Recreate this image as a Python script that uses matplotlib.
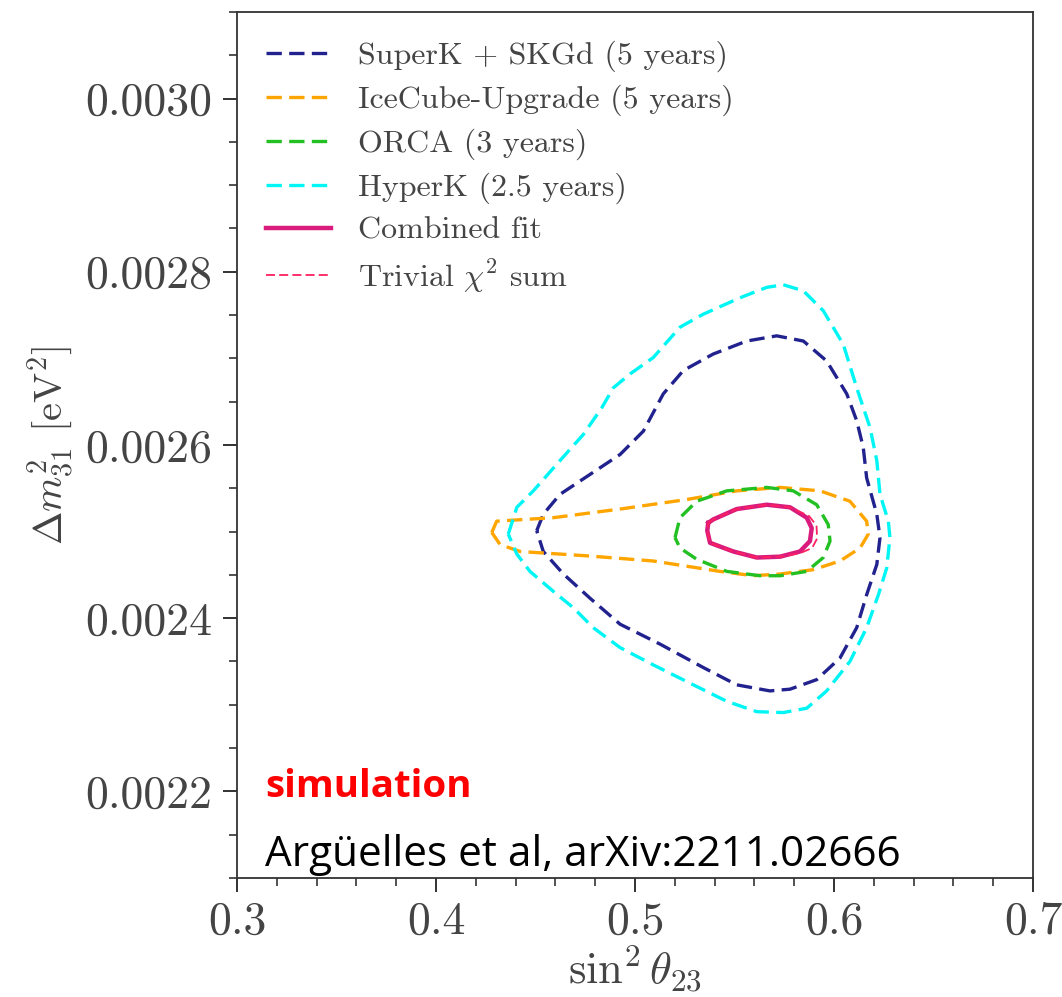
import numpy as np
import matplotlib
matplotlib.use("Agg")
import matplotlib.pyplot as plt
from matplotlib.ticker import MultipleLocator, FormatStrFormatter

plt.rcParams["font.family"] = "serif"
plt.rcParams["font.serif"] = ["cmr10"]
plt.rcParams["mathtext.fontset"] = "cm"
plt.rcParams["axes.unicode_minus"] = False

# 90% CL contours, sin^2(theta_23) vs dm^2_31 [eV^2]
superk_s2 = [0.4506, 0.4539, 0.4623, 0.4774, 0.4925, 0.5042, 0.5142, 0.5243, 0.5393, 0.5561,
             0.5712, 0.5846, 0.5963, 0.6064, 0.6114, 0.6147, 0.6164, 0.6215, 0.6231, 0.6215,
             0.6164, 0.6114, 0.6030, 0.5913, 0.5779, 0.5678, 0.5511, 0.5343, 0.5126, 0.4925,
             0.4774, 0.4640, 0.4539]
superk_dm = [0.002501, 0.002520, 0.002543, 0.002566, 0.002589, 0.002616, 0.002659, 0.002686,
             0.002705, 0.002720, 0.002726, 0.002720, 0.002697, 0.002659, 0.002628, 0.002597,
             0.002562, 0.002520, 0.002493, 0.002462, 0.002427, 0.002389, 0.002354, 0.002329,
             0.002318, 0.002316, 0.002323, 0.002343, 0.002370, 0.002393, 0.002423, 0.002451,
             0.002477]

icecube_s2 = [0.4280, 0.4305, 0.4589, 0.4925, 0.5260, 0.5511, 0.5729, 0.5930, 0.6080, 0.6164,
              0.6172, 0.6131, 0.6030, 0.5896, 0.5729, 0.5594, 0.5427, 0.5092, 0.4757, 0.4422,
              0.4322]
icecube_dm = [0.002499, 0.002512, 0.002516, 0.002526, 0.002537, 0.002547, 0.002551, 0.002547,
              0.002535, 0.002512, 0.002497, 0.002481, 0.002466, 0.002456, 0.002451, 0.002449,
              0.002454, 0.002466, 0.002472, 0.002477, 0.002485]

orca_s2 = [0.5201, 0.5226, 0.5310, 0.5461, 0.5662, 0.5795, 0.5913, 0.5971, 0.5980, 0.5946,
           0.5863, 0.5729, 0.5628, 0.5461, 0.5310, 0.5226]
orca_dm = [0.002493, 0.002516, 0.002535, 0.002547, 0.002551, 0.002547, 0.002531, 0.002508,
           0.002489, 0.002470, 0.002454, 0.002449, 0.002449, 0.002454, 0.002468, 0.002481]

hyperk_s2 = [0.4363, 0.4406, 0.4489, 0.4623, 0.4740, 0.4833, 0.4891, 0.4975, 0.5092, 0.5226,
             0.5343, 0.5528, 0.5662, 0.5745, 0.5846, 0.5946, 0.6047, 0.6114, 0.6181, 0.6215,
             0.6231, 0.6273, 0.6281, 0.6265, 0.6223, 0.6164, 0.6080, 0.5963, 0.5863, 0.5745,
             0.5612, 0.5461, 0.5293, 0.5092, 0.4925, 0.4790, 0.4690, 0.4589, 0.4472, 0.4406]
hyperk_dm = [0.002497, 0.002528, 0.002547, 0.002582, 0.002612, 0.002643, 0.002666, 0.002682,
             0.002701, 0.002736, 0.002751, 0.002770, 0.002782, 0.002785, 0.002778, 0.002755,
             0.002716, 0.002666, 0.002620, 0.002582, 0.002543, 0.002512, 0.002493, 0.002458,
             0.002427, 0.002389, 0.002350, 0.002316, 0.002296, 0.002291, 0.002292, 0.002304,
             0.002323, 0.002346, 0.002366, 0.002389, 0.002412, 0.002431, 0.002454, 0.002474]

combined_s2 = [0.5368, 0.5393, 0.5511, 0.5662, 0.5779, 0.5863, 0.5888, 0.5879, 0.5829, 0.5729,
               0.5612, 0.5494, 0.5377, 0.5363]
combined_dm = [0.002510, 0.002514, 0.002526, 0.002531, 0.002528, 0.002516, 0.002504, 0.002489,
               0.002477, 0.002471, 0.002470, 0.002477, 0.002487, 0.002501]

trivial_s2 = [0.5368, 0.5393, 0.5511, 0.5662, 0.5779, 0.5874, 0.5912, 0.5915, 0.5890, 0.5829,
              0.5729, 0.5612, 0.5494, 0.5377, 0.5363]
trivial_dm = [0.002510, 0.002514, 0.002526, 0.002531, 0.002528, 0.002518, 0.002507, 0.002492,
              0.002481, 0.002475, 0.002471, 0.002470, 0.002477, 0.002487, 0.002501]


def closed(a):
    return np.append(a, a[0])


fig = plt.figure(figsize=(10.62, 9.97), dpi=100)
ax = fig.add_axes([0.2232, 0.1194, 0.7495, 0.8686])

dash = (0, (4.6, 2.2))
ax.plot(closed(superk_s2), closed(superk_dm), color="#22228f", lw=2.4, ls=dash,
        label="SuperK + SKGd (5 years)")
ax.plot(closed(icecube_s2), closed(icecube_dm), color="#ffa500", lw=2.4, ls=dash,
        label="IceCube-Upgrade (5 years)")
ax.plot(closed(orca_s2), closed(orca_dm), color="#22c022", lw=2.4, ls=dash,
        label="ORCA (3 years)")
ax.plot(closed(hyperk_s2), closed(hyperk_dm), color="#00f5f5", lw=2.4, ls=dash,
        label="HyperK (2.5 years)")
ax.plot(closed(combined_s2), closed(combined_dm), color="#d81b7c", lw=3.2, ls="-",
        label="Combined fit")
ax.plot(closed(trivial_s2), closed(trivial_dm), color="#ff2060", lw=1.3, ls=(0, (5, 2.3)),
        label=r"Trivial $\chi^2$ sum")

ax.set_xlim(0.3, 0.7)
ax.set_ylim(0.0021, 0.0031)
ax.xaxis.set_major_locator(MultipleLocator(0.1))
ax.xaxis.set_minor_locator(MultipleLocator(0.02))
ax.yaxis.set_major_locator(MultipleLocator(0.0002))
ax.yaxis.set_minor_locator(MultipleLocator(0.00005))
ax.xaxis.set_major_formatter(FormatStrFormatter("%.1f"))
ax.yaxis.set_major_formatter(FormatStrFormatter("%.4f"))
ax.tick_params(which="both", direction="out", top=False, right=False,
               labelsize=33, colors="#222222", labelcolor="#444444")
ax.tick_params(axis="y", pad=8)
ax.tick_params(axis="x", pad=7)
ax.tick_params(which="major", length=10, width=1.3)
ax.tick_params(which="minor", length=5.5, width=1.1)
for s in ax.spines.values():
    s.set_linewidth(1.3)
    s.set_color("#333333")

ax.set_xlabel(r"$\sin^2\theta_{23}$", fontsize=32, color="#444444", labelpad=0)
ax.set_ylabel(r"$\Delta m^2_{31}$ [eV$^2$]", fontsize=29, color="#444444", labelpad=6)

leg = ax.legend(loc="upper left", bbox_to_anchor=(0.0, 1.0), frameon=False, fontsize=23,
                handlelength=2.05, handletextpad=0.84, labelspacing=0.39, borderaxespad=0.5)
for t in leg.get_texts():
    t.set_color("#444444")

ax.text(0.035, 0.0935, "simulation", transform=ax.transAxes, color="red", fontsize=27.7,
        fontweight="bold", family="Open Sans", va="baseline", ha="left")
ax.text(0.035, 0.014, "Argüelles et al, arXiv:2211.02666", transform=ax.transAxes,
        color="black", fontsize=30.4, family="Open Sans", va="baseline", ha="left")

fig.savefig("out.png", dpi=100)
